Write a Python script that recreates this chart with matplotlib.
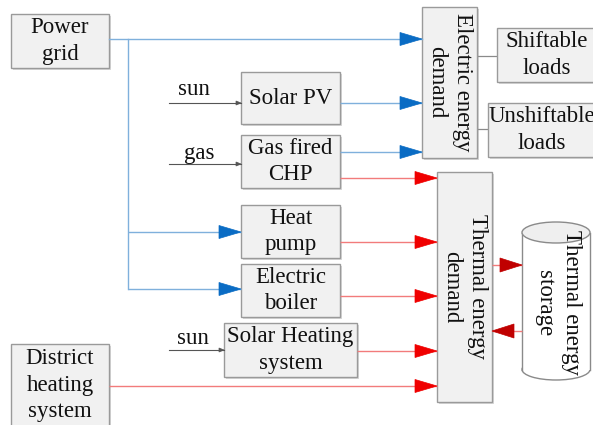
import matplotlib
matplotlib.use("Agg")
import matplotlib.pyplot as plt
from matplotlib.patches import Rectangle, Polygon, Ellipse

plt.rcParams["font.family"] = "serif"
plt.rcParams["font.serif"] = ["Liberation Serif", "Times New Roman", "DejaVu Serif"]

W, H = 593, 425
fig = plt.figure(figsize=(W / 100, H / 100), dpi=100)
ax = fig.add_axes([0, 0, 1, 1])
ax.set_xlim(0, W)
ax.set_ylim(H, 0)
ax.axis("off")

FS = 16.5
LS = 1.35

# node labels and boxes (x0, y0, x1, y1) in pixel coordinates
labels = ["Power\ngrid", "Solar PV", "Gas fired\nCHP", "Heat\npump", "Electric\nboiler",
          "Solar Heating\nsystem", "District\nheating\nsystem", "Shiftable\nloads", "Unshiftable\nloads"]
boxes = [(11, 14, 109, 68), (241, 72, 340, 124), (241, 135, 340, 188), (241, 205, 340, 258),
         (241, 264, 340, 317), (224, 323, 357, 377), (11, 344, 109, 426), (497, 28, 596, 82),
         (488, 103, 596, 157)]

BOXFACE = "#f1f1f1"
BOXEDGE = "#9a9a9a"

def box(x0, y0, x1, y1, text=None, rot=0, dx=0):
    ax.add_patch(Rectangle((x0 + 1.5, y0 + 1.5), x1 - x0, y1 - y0, facecolor="#d8d8d8",
                           edgecolor="none", zorder=1))
    ax.add_patch(Rectangle((x0, y0), x1 - x0, y1 - y0, facecolor=BOXFACE,
                           edgecolor=BOXEDGE, lw=1.0, zorder=2))
    if text:
        ax.text((x0 + x1) / 2 + dx, (y0 + y1) / 2, text, ha="center", va="center",
                fontsize=FS, rotation=rot, linespacing=LS, zorder=3,
                color="#111111")

for lab, b in zip(labels, boxes):
    box(*b, text=lab)

box(422, 7, 477, 158, "Electric energy\ndemand", rot=-90)
box(437, 172, 492, 402, "Thermal energy\ndemand", rot=-90)

BLUE_L = "#7fb0dc"
BLUE_H = "#0a6cc4"
RED_L = "#f27b7b"
RED_H = "#f00000"
DRED = "#c00000"

def arrowhead(x_tip, y, color, direction=1, length=22, half=6.5):
    xb = x_tip - direction * length
    ax.add_patch(Polygon([(x_tip, y), (xb, y - half), (xb, y + half)], closed=True,
                         facecolor=color, edgecolor=color, lw=0.5, zorder=4))

def arrow(x0, x1, y, lc, hc, lw=1.0, direction=1, length=22, half=6.5):
    ax.plot([x0, x1], [y, y], color=lc, lw=lw, zorder=3, solid_capstyle="butt")
    arrowhead(x1, y, hc, direction, length, half)

# Power grid bus
ax.plot([109, 422], [39, 39], color=BLUE_L, lw=1.0, zorder=3)
arrowhead(422, 39, BLUE_H)
ax.plot([128, 128], [39, 289], color=BLUE_L, lw=1.0, zorder=3)
arrow(128, 241, 232, BLUE_L, BLUE_H)
arrow(128, 241, 289, BLUE_L, BLUE_H)

# electric inputs
arrow(340, 422, 103, BLUE_L, BLUE_H)
arrow(340, 422, 152, BLUE_L, BLUE_H)

# thermal inputs
arrow(340, 437, 178, RED_L, RED_H)
arrow(340, 437, 242, RED_L, RED_H)
arrow(340, 437, 296, RED_L, RED_H)
arrow(357, 437, 351, RED_L, RED_H)
arrow(109, 437, 386, RED_L, RED_H)

# loads connections
ax.plot([477, 497], [56, 56], color="#8a8a8a", lw=0.9, zorder=1.5)
ax.plot([477, 488], [129, 129], color="#8a8a8a", lw=0.9, zorder=1.5)

# fuel inputs
SMALL = "#555555"
for (x0, x1, y, txt, tx, ty) in [(169, 241, 103, "sun", 194, 89),
                                  (169, 241, 164, "gas", 199, 153),
                                  (169, 224, 350, "sun", 193, 339)]:
    ax.plot([x0, x1], [y, y], color=SMALL, lw=0.8, zorder=3)
    arrowhead(x1, y, SMALL, length=5, half=2)
    ax.text(tx, ty, txt, ha="center", va="center", fontsize=FS, color="#111111")

# thermal storage cylinder
cx0, cx1, cy0, cy1, eh = 522, 590, 222, 380, 21
cxm = (cx0 + cx1) / 2
ax.add_patch(Rectangle((cx0, cy0 + eh / 2), cx1 - cx0, cy1 - cy0 - eh, facecolor="white",
                       edgecolor="none", zorder=2))
ax.add_patch(Ellipse((cxm, cy1 - eh / 2), cx1 - cx0, eh, facecolor="white",
                     edgecolor="#8a8a8a", lw=1.0, zorder=1.9))
ax.plot([cx0, cx0], [cy0 + eh / 2, cy1 - eh / 2], color="#8a8a8a", lw=1.0, zorder=2.5)
ax.plot([cx1, cx1], [cy0 + eh / 2, cy1 - eh / 2], color="#8a8a8a", lw=1.0, zorder=2.5)
ax.add_patch(Ellipse((cxm, cy0 + eh / 2), cx1 - cx0, eh, facecolor="#efefef",
                     edgecolor="#8a8a8a", lw=1.0, zorder=2.6))
ax.text(cxm + 2, 303, "Thermal energy\nstorage", ha="center", va="center", fontsize=FS,
        rotation=-90, linespacing=LS, zorder=3, color="#111111")

arrow(492, 522, 265, RED_L, DRED, length=22, half=7)
arrow(522, 492, 331, RED_L, DRED, direction=-1, length=22, half=7)

fig.savefig("out.png", dpi=100, facecolor="white")
